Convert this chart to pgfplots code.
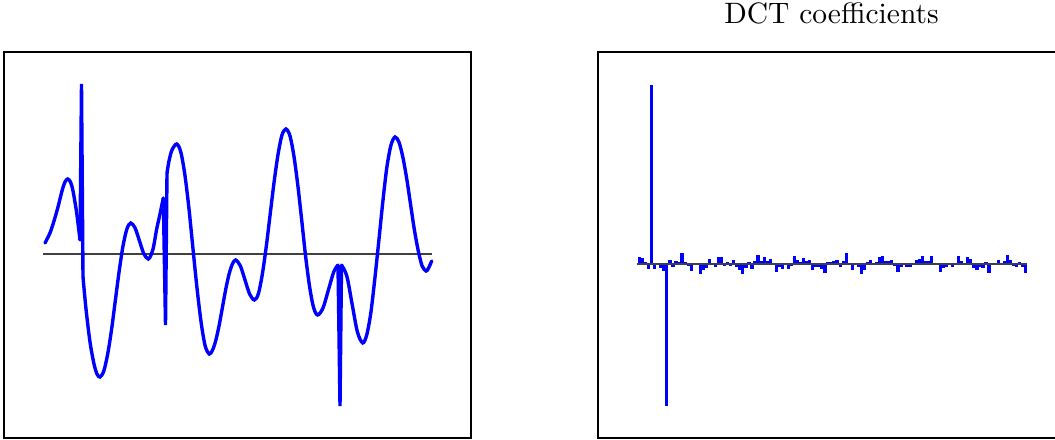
\documentclass[border=0pt]{standalone}
\usepackage{pgfplots}
\pgfplotsset{compat=1.18}
\begin{document}
\begin{tikzpicture}
\useasboundingbox (0,0) rectangle (357.645pt,149.16pt);
\begin{axis}[at={(1.356pt,0.678pt)}, anchor=south west, scale only axis,
  width=158.313pt, height=130.854pt,
  xmin=4, xmax=471, ymin=-184, ymax=202,
  xtick=\empty, ytick=\empty]
\addplot[black!75, line width=0.35pt] coordinates {(43,0) (432,0)};
\addplot[blue, line width=1.15pt, smooth, line cap=round] coordinates {(45,11) (50,21) (54,33) (58,47) (62,63) (65,72) (67.7,75) (70.5,72) (73,63) (76.7,41) (80,14)};
\addplot[blue, line width=1.15pt, line join=bevel] coordinates {(80,14) (81.5,170) (83,-23)};
\addplot[blue, line width=1.15pt, smooth, line cap=round] coordinates {(83,-23) (86,-55) (90,-88) (94,-110) (97,-120) (100,-123) (103.8,-117) (107.7,-100) (111.5,-76) (115.4,-46) (119.2,-17) (123,8) (126.9,25) (130.7,31) (135.1,26) (139.5,13) (143.9,0) (148.3,-5) (151,-1) (153.5,7) (156.7,25) (160,40) (163.3,56)};
\addplot[blue, line width=1.15pt, line join=bevel] coordinates {(163.3,56) (165.5,-71) (167,81)};
\addplot[blue, line width=1.15pt, smooth, line cap=round] coordinates {(167,81) (169,93) (172,104) (176.7,110) (180.8,102) (184.9,79) (189,45) (193,5) (197.1,-35) (201.2,-69) (205.2,-92) (209.3,-100) (212.6,-96) (215.9,-86) (219.2,-71) (222.5,-53) (225.8,-35) (229.1,-20) (232.4,-10) (235.7,-6) (240.4,-12) (245,-26) (249.6,-40) (254.3,-46) (258.3,-40) (262.2,-21) (266.2,7) (270.2,40) (274.1,72) (278.1,100) (282,119) (286,125) (290,118) (293.9,98) (297.9,68) (301.9,32) (305.8,-4) (309.8,-34) (313.7,-54) (317.7,-61) (323,-54) (328.4,-36) (333.7,-18) (338,-11)};
\addplot[blue, line width=1.15pt, line join=bevel] coordinates {(338,-11) (340,-152) (341.5,-11)};
\addplot[blue, line width=1.15pt, smooth, line cap=round] coordinates {(341.5,-11) (346.8,-22) (352.1,-50) (357.4,-78) (362.7,-89) (366.7,-81) (370.8,-59) (374.8,-25) (378.9,14) (382.9,53) (386.9,87) (391,109) (395,117) (398.9,112) (402.8,97) (406.6,76) (410.5,50) (414.4,24) (418.3,3) (422.1,-12) (426,-17) (428,-15) (430,-11) (431.7,-7)};
\end{axis}
\begin{axis}[at={(202.722pt,0.678pt)}, anchor=south west, scale only axis,
  width=158.313pt, height=130.854pt,
  xmin=-13.65, xmax=139.97, ymin=-174, ymax=212,
  xtick=\empty, ytick=\empty, title={DCT coefficients}]
\addplot[blue, ycomb, line width=1.1pt] table {
x y
0 7
1 6
2 2
3 -5
4 179
5 -5
6 1
7 -4
8 -7
9 -142
10 4
11 -3
12 3
13 2
14 11
15 2
16 -2
17 -7
18 1
19 -1
20 -10
21 -6
22 -4
23 5
24 0
25 -3
26 7
27 7
28 -2
29 2
30 -2
31 4
32 -3
33 -6
34 -10
35 -4
36 2
37 -5
38 3
39 9
40 3
41 7
42 3
43 5
44 1
45 -8
46 -3
47 -5
48 1
49 -5
50 -2
51 8
52 4
53 2
54 6
55 3
56 4
57 -6
58 -3
59 -3
60 -5
61 -9
62 2
63 2
64 3
65 4
66 -3
67 3
68 11
69 1
70 -6
71 1
72 -3
73 -10
74 -6
75 2
76 4
77 -1
78 2
79 7
80 8
81 3
82 3
83 4
84 -2
85 -8
86 -3
87 1
88 -3
89 -3
90 1
91 4
92 5
93 8
94 3
95 3
96 8
97 1
98 1
99 -8
100 -4
101 -3
102 1
103 -3
104 0
105 8
106 3
107 1
108 7
109 5
110 -4
111 -6
112 -3
113 -4
114 2
115 -9
116 0
117 1
118 4
119 1
120 3
121 9
122 4
123 -2
124 -3
125 2
126 -3
127 -9
};
\addplot[black!75, line width=0.35pt] coordinates {(-0.7,0) (127.4,0)};
\end{axis}
\end{tikzpicture}
\end{document}
